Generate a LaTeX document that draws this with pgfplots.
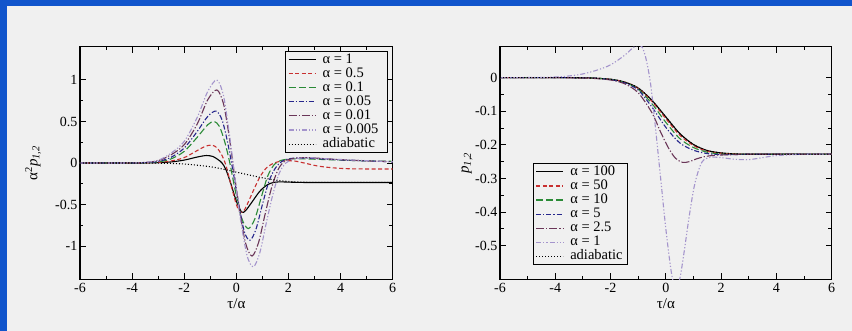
\documentclass[border=0pt]{standalone}
\usepackage{fontspec}
\setmainfont{Liberation Serif}
\usepackage{pgfplots}
\pgfplotsset{compat=1.18}
\definecolor{bgblue}{HTML}{1155CC}
\definecolor{bggray}{HTML}{F0F0F0}
\definecolor{cred}{HTML}{C83030}
\definecolor{cgreen}{HTML}{2A8A36}
\definecolor{cblue}{HTML}{26268C}
\definecolor{cbrown}{HTML}{6A3658}
\definecolor{clav}{HTML}{A494CC}
\pgfplotsset{
 myax/.style={
  scale only axis, anchor=south west,
  xmin=-6, xmax=6, xtick={-6,-4,...,6}, minor x tick num=1, minor y tick num=1,
  tick align=inside, xtick pos=both, ytick pos=both,
  axis line style={line width=1.4pt},
  every tick/.style={black, line width=0.9pt},
  major tick length=6pt, minor tick length=3.5pt,
  /pgf/number format/assume math mode=true,
  ticklabel style={font=\fontsize{14}{16}\selectfont},
  yticklabel style={inner xsep=2.5pt},
  label style={font=\fontsize{15}{17}\selectfont},
  legend cell align=left,
  legend image code/.code={\draw[#1] (0pt,0pt) -- (27pt,0pt);},
  legend style={draw=black, line width=1pt, fill=bggray,
    font=\fontsize{14.5}{15}\selectfont, inner xsep=2.5pt, inner ysep=1pt,
    row sep=0pt, column sep=4.5pt, anchor=north west, cells={anchor=west},
    nodes={text height=9.8pt, text depth=2.8pt, inner ysep=0.75pt}},
  every axis plot/.append style={line width=1.1pt, smooth, tension=0.5},
 },
 s1/.style={black, solid},
 s2/.style={cred, dash pattern=on 4pt off 2.5pt},
 s3/.style={cgreen, dash pattern=on 7pt off 3pt},
 s4/.style={cblue, dash pattern=on 5pt off 2pt on 1.2pt off 2pt},
 s5/.style={cbrown, dash pattern=on 8pt off 2pt on 1.2pt off 2pt},
 s6/.style={clav, dash pattern=on 5pt off 2pt on 1.2pt off 2pt on 1.2pt off 2pt},
 s7/.style={black, dash pattern=on 1pt off 2pt},
}
\begin{document}
\begin{tikzpicture}
\fill[bgblue] (0,0) rectangle (852pt,331pt);
\fill[bggray] (6.5pt,0) rectangle (852pt,325pt);
% ---------- left panel ----------
\begin{axis}[myax, at={(80pt,51.7pt)}, width=312.7pt, height=232.6pt,
  ymin=-1.4, ymax=1.4, ytick={-1,-0.5,0,0.5,1},
  xlabel={τ/α}, ylabel={α\textsuperscript{2}\textit{p}\textsubscript{\textit{1,2}}},
  xlabel style={at={(axis description cs:0.5,-0.106)}, anchor=center},
  ylabel style={at={(axis description cs:-0.150,0.5)}, anchor=center},
  legend style={at={(0,1)}, xshift=205pt, yshift=-4.3pt}]
\addplot[s1] coordinates {(-6,0) (-4,0) (-3.5,0.001) (-3,0.004) (-2.5,0.013) (-2,0.035) (-1.5,0.072) (-1.15,0.09) (-0.9,0.078) (-0.7,0.04) (-0.55,0) (-0.4,-0.08) (-0.2,-0.26) (0,-0.46) (0.2,-0.59) (0.35,-0.575) (0.6,-0.47) (0.9,-0.34) (1.2,-0.26) (1.5,-0.23) (1.8,-0.228) (2.2,-0.232) (3,-0.235) (6,-0.235)};
\addlegendentry{α = 1}
\addplot[s2] coordinates {(-6,0) (-4,0) (-3.5,0.002) (-3,0.007) (-2.5,0.025) (-2,0.065) (-1.5,0.15) (-1.2,0.2) (-0.95,0.215) (-0.75,0.185) (-0.55,0.09) (-0.4,-0.03) (-0.2,-0.27) (0,-0.5) (0.15,-0.59) (0.3,-0.57) (0.5,-0.44) (0.7,-0.3) (0.9,-0.17) (1.15,-0.06) (1.45,0.0) (1.8,0.025) (2.2,0.025) (2.6,0.0) (3.1,-0.035) (3.6,-0.055) (4.2,-0.068) (5,-0.072) (6,-0.072)};
\addlegendentry{α = 0.5}
\addplot[s3] coordinates {(-6,0) (-4,0) (-3.5,0.003) (-3,0.012) (-2.5,0.05) (-2,0.14) (-1.5,0.31) (-1.1,0.46) (-0.85,0.5) (-0.65,0.44) (-0.45,0.26) (-0.25,0.0) (-0.05,-0.32) (0.2,-0.66) (0.45,-0.79) (0.7,-0.68) (0.95,-0.42) (1.2,-0.16) (1.45,-0.02) (1.7,0.03) (2.1,0.05) (2.6,0.05) (3.5,0.04) (4.5,0.03) (6,0.02)};
\addlegendentry{α = 0.1}
\addplot[s4] coordinates {(-6,0) (-4,0) (-3.5,0.004) (-3,0.018) (-2.5,0.07) (-2,0.18) (-1.5,0.38) (-1.1,0.56) (-0.78,0.625) (-0.55,0.52) (-0.35,0.27) (-0.15,-0.06) (0.05,-0.42) (0.3,-0.82) (0.52,-0.93) (0.75,-0.8) (1.0,-0.5) (1.25,-0.22) (1.5,-0.06) (1.75,0.02) (2.1,0.055) (2.6,0.06) (3.5,0.045) (4.5,0.03) (6,0.015)};
\addlegendentry{α = 0.05}
\addplot[s5] coordinates {(-6,0) (-4,0.001) (-3.5,0.007) (-3,0.028) (-2.5,0.1) (-2,0.22) (-1.5,0.47) (-1.1,0.76) (-0.75,0.88) (-0.5,0.72) (-0.3,0.37) (-0.1,-0.08) (0.1,-0.52) (0.35,-0.96) (0.6,-1.12) (0.85,-0.96) (1.1,-0.62) (1.35,-0.3) (1.6,-0.08) (1.85,0.02) (2.2,0.055) (2.7,0.065) (3.5,0.05) (4.5,0.032) (6,0.015)};
\addlegendentry{α = 0.01}
\addplot[s6] coordinates {(-6,0) (-4,0.001) (-3.5,0.008) (-3,0.032) (-2.5,0.12) (-2,0.26) (-1.5,0.55) (-1.1,0.86) (-0.75,1.0) (-0.5,0.82) (-0.3,0.42) (-0.1,-0.06) (0.1,-0.56) (0.4,-1.1) (0.65,-1.25) (0.9,-1.08) (1.15,-0.72) (1.4,-0.38) (1.65,-0.12) (1.9,0.0) (2.2,0.045) (2.7,0.065) (3.5,0.05) (4.5,0.035) (6,0.015)};
\addlegendentry{α = 0.005\hspace*{5pt}}
\addplot[s7] coordinates {(-6,0) (-4,0) (-3,-0.002) (-2,-0.012) (-1,-0.045) (-0.5,-0.075) (0,-0.11) (0.5,-0.145) (1,-0.178) (1.5,-0.205) (2,-0.222) (2.5,-0.23) (3,-0.233) (6,-0.233)};
\addlegendentry{adiabatic}
\end{axis}
% ---------- right panel ----------
\begin{axis}[myax, at={(500pt,51.7pt)}, width=331.7pt, height=232.6pt,
  ymin=-0.6, ymax=0.092, ytick={-0.5,-0.4,-0.3,-0.2,-0.1,0},
  xlabel={τ/α}, ylabel={\textit{p}\textsubscript{\textit{1,2}}},
  xlabel style={at={(axis description cs:0.5,-0.106)}, anchor=center},
  ylabel style={at={(axis description cs:-0.0995,0.5)}, anchor=center},
  legend style={at={(0,1)}, xshift=32.7pt, yshift=-116.6pt}]
\addplot[s1] coordinates {(-6,0) (-4,0) (-3,-0.0005) (-2.5,-0.002) (-2,-0.005) (-1.5,-0.013) (-1,-0.031) (-0.5,-0.068) (0,-0.117) (0.5,-0.166) (1,-0.199) (1.5,-0.217) (2,-0.224) (2.5,-0.227) (3,-0.228) (4,-0.228) (6,-0.228)};
\addlegendentry{α = 100}
\addplot[s2] coordinates {(-6,0) (-4,0) (-3,-0.0005) (-2.5,-0.002) (-2,-0.005) (-1.5,-0.013) (-1,-0.032) (-0.5,-0.071) (0,-0.122) (0.5,-0.171) (1,-0.202) (1.5,-0.219) (2,-0.225) (2.5,-0.227) (3,-0.228) (6,-0.228)};
\addlegendentry{α = 50}
\addplot[s3] coordinates {(-6,0) (-4,0) (-3,-0.0005) (-2.5,-0.002) (-2,-0.005) (-1.5,-0.014) (-1,-0.034) (-0.5,-0.078) (0,-0.133) (0.5,-0.181) (1,-0.208) (1.5,-0.222) (2,-0.227) (2.5,-0.228) (6,-0.228)};
\addlegendentry{α = 10}
\addplot[s4] coordinates {(-6,0) (-4,0) (-3,-0.0005) (-2.5,-0.002) (-2,-0.006) (-1.5,-0.015) (-1,-0.037) (-0.5,-0.088) (0,-0.148) (0.5,-0.194) (1,-0.216) (1.5,-0.226) (2,-0.229) (2.5,-0.229) (3,-0.228) (6,-0.228)};
\addlegendentry{α = 5}
\addplot[s5] coordinates {(-6,0) (-4,0) (-3,-0.001) (-2.5,-0.003) (-2,-0.007) (-1.5,-0.018) (-1,-0.045) (-0.5,-0.105) (-0.2,-0.16) (0.1,-0.21) (0.35,-0.24) (0.6,-0.252) (0.85,-0.25) (1.1,-0.242) (1.4,-0.235) (1.8,-0.231) (2.5,-0.229) (3,-0.228) (6,-0.228)};
\addlegendentry{α = 2.5}
\addplot[s6] coordinates {(-6,0) (-4.5,0.0005) (-4,0.002) (-3.5,0.005) (-3,0.011) (-2.5,0.022) (-2,0.038) (-1.5,0.066) (-1.2,0.088) (-1,0.097) (-0.85,0.09) (-0.7,0.05) (-0.55,-0.02) (-0.4,-0.13) (-0.2,-0.29) (0,-0.45) (0.2,-0.58) (0.35,-0.625) (0.5,-0.6) (0.65,-0.525) (0.85,-0.41) (1.05,-0.315) (1.3,-0.252) (1.6,-0.237) (2,-0.238) (2.5,-0.243) (3,-0.244) (3.5,-0.238) (4,-0.232) (5,-0.228) (6,-0.228)};
\addlegendentry{α = 1}
\addplot[s7] coordinates {(-6,0) (-4,0) (-3,-0.0005) (-2.5,-0.002) (-2,-0.005) (-1.5,-0.013) (-1,-0.031) (-0.5,-0.068) (0,-0.117) (0.5,-0.166) (1,-0.199) (1.5,-0.217) (2,-0.224) (2.5,-0.227) (3,-0.228) (4,-0.228) (6,-0.228)};
\addlegendentry{adiabatic}
\end{axis}
\end{tikzpicture}
\end{document}
